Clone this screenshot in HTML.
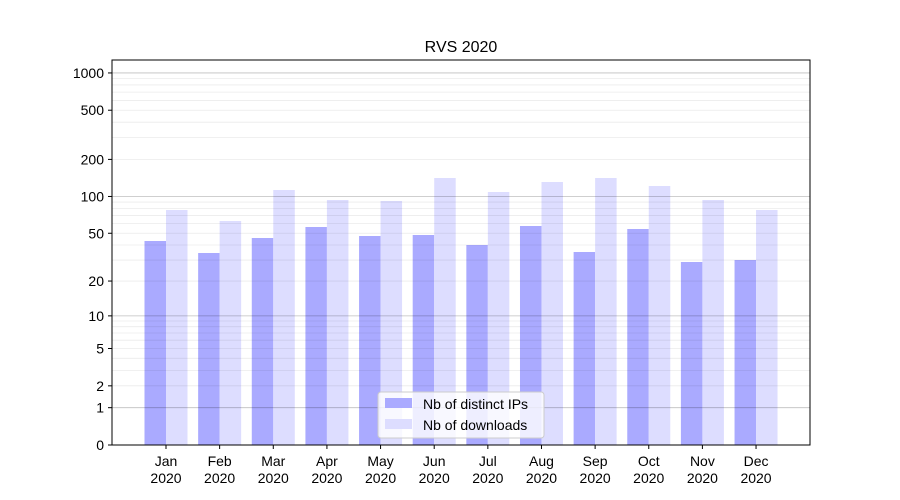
<!DOCTYPE html>
<html><head><meta charset="utf-8"><style>body{margin:0;background:#fff}svg{display:block;font-family:"Liberation Sans","DejaVu Sans",sans-serif}</style></head>
<body>
<svg id="s" width="900" height="500" xmlns="http://www.w3.org/2000/svg">
<rect width="900" height="500" fill="#fff"/>
<g id="bars"></g>
<g id="grid"></g>
<rect x="112" y="60" width="698" height="385" fill="none" stroke="#000" stroke-width="1"/>
<g id="ticks" font-size="14" fill="#000"></g>
<text x="461" y="52" font-size="16" text-anchor="middle">RVS 2020</text>
<g>
<rect x="378" y="392" width="166" height="46" rx="3" fill="#fff" fill-opacity="0.8" stroke="#ccc"/>
<rect x="385" y="398" width="27" height="10" fill="#aaaaff"/>
<text x="423" y="409" font-size="14">Nb of distinct IPs</text>
<rect x="385" y="419" width="27" height="10" fill="#ddddff"/>
<text x="423" y="430" font-size="14">Nb of downloads</text>
</g>
</svg>
<script>
const NS="http://www.w3.org/2000/svg";
function el(p,t,a,txt){const e=document.createElementNS(NS,t);for(const k in a)e.setAttribute(k,a[k]);if(txt!==undefined)e.textContent=txt;document.getElementById(p).appendChild(e);}
const Y=v=>445-124*Math.log10(1+v);
for(const d of [1,10,100]){for(let m=2;m<=9;m++){const y=Y(m*d);el("grid","line",{x1:112,x2:810,y1:y,y2:y,stroke:"#000","stroke-opacity":0.08,"stroke-width":0.8});}}
for(const v of [1,10,100,1000]){const y=Y(v);el("grid","line",{x1:112,x2:810,y1:y,y2:y,stroke:"#000","stroke-opacity":0.25,"stroke-width":0.8});}
for(const [v,l] of [[0,"0"],[1,"1"],[2,"2"],[5,"5"],[10,"10"],[20,"20"],[50,"50"],[100,"100"],[200,"200"],[500,"500"],[1000,"1000"]]){const y=Y(v);el("ticks","line",{x1:108,x2:112,y1:y,y2:y,stroke:"#000"});el("ticks","text",{x:104,y:y+5,"text-anchor":"end"},l);}
const months=["Jan","Feb","Mar","Apr","May","Jun","Jul","Aug","Sep","Oct","Nov","Dec"];
const tops=[[241,210],[253,221],[238,190],[227,200],[236,201],[235,178],[245,192],[226,182],[252,178],[229,186],[262,200],[260,210]];
months.forEach((m,i)=>{const c=166+i*53.64;
el("bars","rect",{x:c-21.5,y:tops[i][0],width:21.5,height:445-tops[i][0],fill:"#aaaaff"});
el("bars","rect",{x:c,y:tops[i][1],width:21.5,height:445-tops[i][1],fill:"#ddddff"});
el("ticks","line",{x1:c,x2:c,y1:445,y2:449,stroke:"#000"});
el("ticks","text",{x:c,y:466,"text-anchor":"middle"},m);
el("ticks","text",{x:c,y:483,"text-anchor":"middle"},"2020");});
</script>
</body></html>
